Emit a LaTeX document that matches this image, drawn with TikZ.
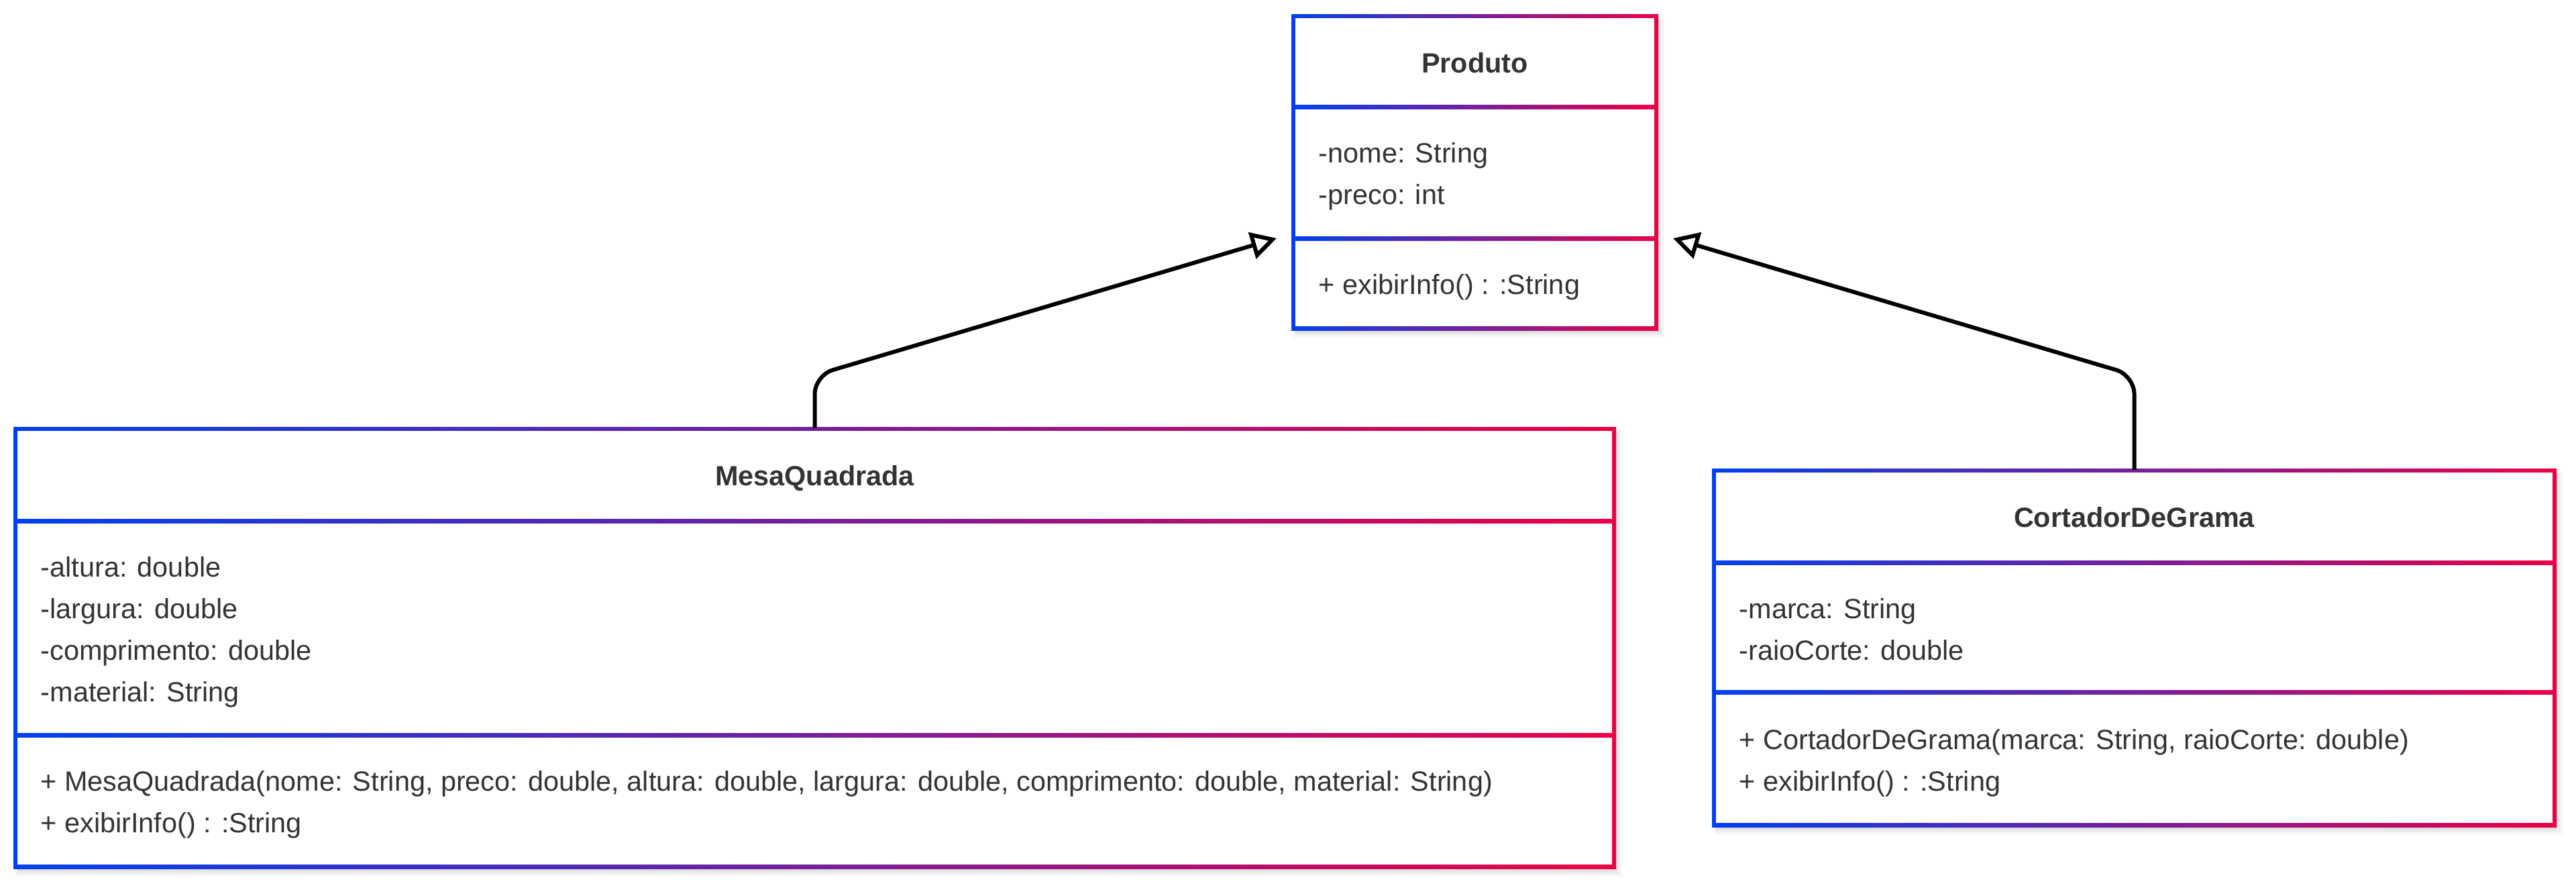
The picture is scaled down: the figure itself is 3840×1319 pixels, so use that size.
\documentclass[tikz,border=0pt]{standalone}
\usepackage{fontspec}
\setmainfont{Liberation Sans}
\usetikzlibrary{arrows.meta}
\definecolor{cblue}{RGB}{0,64,240}
\definecolor{cred}{RGB}{236,0,68}
\definecolor{ctext}{RGB}{51,51,51}
% x1 y1 x2 y2 div1 div2
\newcommand{\umlbox}[6]{%
  \fill[black,opacity=0.035] (#1+0,#2+2) rectangle (#3+12,#4+14);
  \fill[black,opacity=0.045] (#1+2,#2+4) rectangle (#3+8,#4+10);
  \fill[black,opacity=0.05] (#1+3,#2+5) rectangle (#3+5,#4+7);
  \shade[left color=cblue,right color=cred] (#1-3,#2-3) rectangle (#3+3,#4+3);
  \fill[white] (#1+3,#2+3) rectangle (#3-3,#4-3);
  \shade[left color=cblue,right color=cred] (#1,#5-3) rectangle (#3,#5+3);
  \shade[left color=cblue,right color=cred] (#1,#6-3) rectangle (#3,#6+3);
}
\tikzset{
  txt/.style={anchor=base west, inner sep=0pt, text=ctext, font=\fontsize{10.35pt}{12pt}\selectfont},
  ttl/.style={anchor=base, inner sep=0pt, text=ctext, font=\fontsize{10.35pt}{12pt}\selectfont\bfseries},
  boxnode/.style={inner sep=0pt, draw=none},
  conn/.style={line width=1.5pt, black, rounded corners=7pt, -{Triangle[open, length=9.5pt, width=10pt]}}
}
\begin{document}
\begin{tikzpicture}[x=0.25pt,y=-0.25pt]
\fill[white] (0,0) rectangle (3840,1319);
\useasboundingbox (0,0) rectangle (3840,1319);

% named box nodes
\node[boxnode, minimum width=135.25pt, minimum height=116.25pt] (produto) at (2198.5,256.5) {};
\node[boxnode, minimum width=595.75pt, minimum height=163pt] (mesa) at (1214.5,965) {};
\node[boxnode, minimum width=313.25pt, minimum height=132pt] (cortador) at (3181.5,965) {};

% Produto
\umlbox{1928}{24}{2469}{489}{159}{355}
\node[ttl] (pTitle) at (2198.5,108) {Produto};
\node[txt] (pA1) at (1965,242) {-nome: String};
\node[txt] (pA2) at (1965,304) {-preco: int};
\node[txt] (pM1) at (1965,438) {+ exibirInfo() : :String};

% MesaQuadrada
\umlbox{23}{639}{2406}{1291}{776}{1095}
\node[ttl] (mTitle) at (1214.5,723) {MesaQuadrada};
\node[txt] (mA1) at (60,859) {-altura: double};
\node[txt] (mA2) at (60,921) {-largura: double};
\node[txt] (mA3) at (60,983) {-comprimento: double};
\node[txt] (mA4) at (60,1045) {-material: String};
\node[txt] (mM1) at (60,1178) {+ MesaQuadrada(nome: String, preco: double, altura: double, largura: double, comprimento: double, material: String)};
\node[txt] (mM2) at (60,1240) {+ exibirInfo() : :String};

% CortadorDeGrama
\umlbox{2555}{701}{3808}{1229}{838}{1031}
\node[ttl] (cTitle) at (3181.5,785) {CortadorDeGrama};
\node[txt] (cA1) at (2592,921) {-marca: String};
\node[txt] (cA2) at (2592,983) {-raioCorte: double};
\node[txt] (cM1) at (2592,1116) {+ CortadorDeGrama(marca: String, raioCorte: double)};
\node[txt] (cM2) at (2592,1178) {+ exibirInfo() : :String};

% connectors
\coordinate (tipL) at (1903,355);
\coordinate (tipR) at (2494,355);
\draw[conn] (mesa.north) -- ++(0,-79) -- (tipL);
\draw[conn] (cortador.north) -- ++(0,-141) -- (tipR);
\end{tikzpicture}
\end{document}
